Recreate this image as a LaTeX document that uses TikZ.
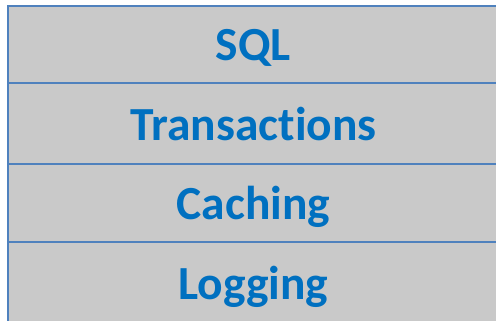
\documentclass[tikz,border=0pt]{standalone}
\usepackage{fontspec}
\setmainfont[Ligatures=NoCommon]{Carlito}
\usetikzlibrary{positioning}
\definecolor{layergray}{HTML}{C9C9C9}
\definecolor{layerblue}{HTML}{4F81BD}
\definecolor{textblue}{HTML}{0070C0}
\begin{document}
\begin{tikzpicture}[x=1pt,y=-1pt,
  layer/.style={draw=layerblue,line width=1.6pt,fill=layergray,
    minimum width=491pt,inner sep=0pt,outer sep=0pt,
    text height=33pt,text depth=0pt,
    font=\fontsize{47.5}{57}\selectfont\bfseries,text=textblue}]
\clip (0,0) rectangle (496,321);
\node [layer,minimum height=77pt,anchor=north west] (sql) at (8,6) {SQL};
\node [layer,minimum height=81pt,below=0pt of sql] (trans) {Transactions};
\node [layer,minimum height=78pt,below=0pt of trans] (cache) {Caching};
\node [layer,minimum height=82pt,below=0pt of cache] (log) {Logging};
\end{tikzpicture}
\end{document}
